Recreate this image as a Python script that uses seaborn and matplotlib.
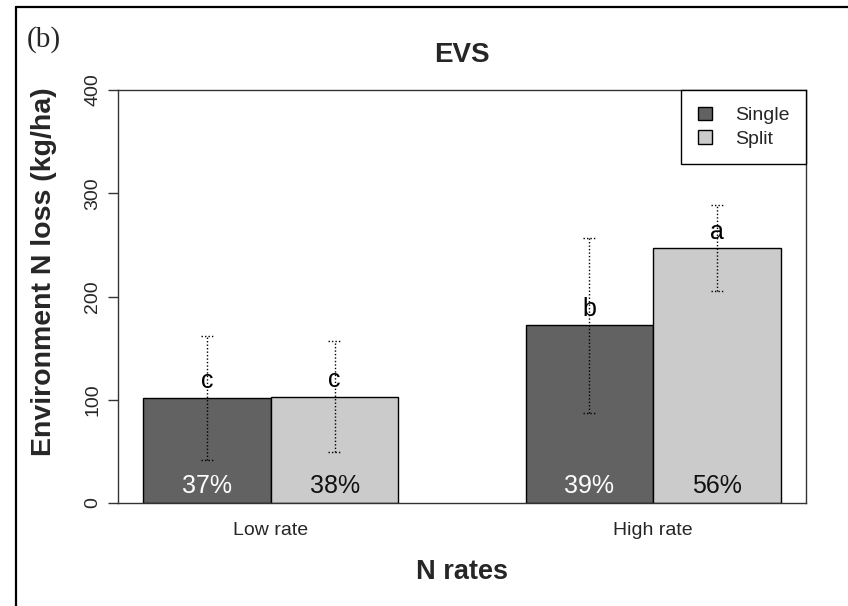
import matplotlib
matplotlib.use('Agg')
import matplotlib.pyplot as plt
import seaborn as sns
import pandas as pd
from matplotlib.patches import Rectangle
from matplotlib.lines import Line2D

# ---- data ----
rates = ['Low rate', 'High rate']
methods = ['Single', 'Split']
single_loss = [102, 172]
split_loss = [103, 247]
single_sd = [60, 85]
split_sd = [54, 42]
single_letters = ['c', 'b']
split_letters = ['c', 'a']
single_pct = ['37%', '39%']
split_pct = ['38%', '56%']
yticks = [0, 100, 200, 300, 400]

colors = {'Single': '#626262', 'Split': '#cbcbcb'}
pct_colors = {'Single': 'white', 'Split': '#111111'}

df = pd.DataFrame({
    'rate': rates * 2,
    'method': ['Single'] * 2 + ['Split'] * 2,
    'loss': single_loss + split_loss,
    'sd': single_sd + split_sd,
    'letter': single_letters + split_letters,
    'pct': single_pct + split_pct,
})

sns.set_style('white')
plt.rcParams['font.family'] = ['Liberation Sans', 'DejaVu Sans']

W, H = 848, 606
fig = plt.figure(figsize=(W / 100, H / 100), dpi=100, facecolor='white')
ax = fig.add_axes([118 / W, 1 - 503 / H, (806 - 118) / W, (503 - 90) / H])

sns.barplot(data=df, x='rate', y='loss', hue='method', order=rates,
            hue_order=methods, palette=colors, width=2 / 3, saturation=1,
            edgecolor='black', linewidth=1, errorbar=None, legend=False, ax=ax)

dot = (0, (1, 1.5))
cap = 0.016
for m, cont in zip(methods, ax.containers):
    sub = df[df['method'] == m].set_index('rate').loc[rates]
    for bar, (_, row) in zip(cont, sub.iterrows()):
        x = bar.get_x() + bar.get_width() / 2
        h = bar.get_height()
        sd = row['sd']
        ax.vlines(x, h - sd, h + sd, colors='black', linestyles=dot, lw=1, zorder=4)
        ax.hlines([h - sd, h + sd], x - cap, x + cap, colors='black',
                  linestyles=dot, lw=1, zorder=4)
        ax.text(x, h + 9, row['letter'], ha='center', va='baseline',
                fontsize=18, color='black', zorder=5)
        ax.text(x, 10, row['pct'], ha='center', va='baseline', fontsize=18,
                color=pct_colors[m], zorder=5)

ax.set_xlim(-0.4, 1.4)
ax.set_ylim(0, 400)
ax.set_yticks(yticks)
ax.set_yticklabels([str(v) for v in yticks])
ax.tick_params(axis='y', left=True, length=7.2, width=1, color='#333333',
               pad=5, labelsize=14, labelrotation=90)
for lbl in ax.get_yticklabels():
    lbl.set_va('center')
ax.tick_params(axis='x', bottom=False, length=0, pad=14, labelsize=14)

for s in ax.spines.values():
    s.set_visible(True)
    s.set_color('#333333')
    s.set_linewidth(1)

ax.set_xlabel('N rates', fontsize=19.5, fontweight='bold')
ax.xaxis.set_label_coords(0.5, (503 - 572) / 413)
ax.xaxis.label.set_va('center')
ax.set_ylabel('Environment N loss (kg/ha)', fontsize=20.5, fontweight='bold')
ax.yaxis.set_label_coords((44 - 118) / 688, (503 - 272) / 413)
ax.yaxis.label.set_va('center')
ax.set_title('EVS', fontsize=20, fontweight='bold', pad=20)

handles = [Rectangle((0, 0), 1, 1, facecolor=colors[m], edgecolor='black', lw=1)
           for m in methods]
leg = ax.legend(handles, methods, loc='upper right', borderaxespad=0,
                fontsize=14, frameon=True, fancybox=False, framealpha=1,
                edgecolor='black', handlelength=0.72, handleheight=0.72,
                handletextpad=1.2, borderpad=0.85, labelspacing=0.3)
leg.get_frame().set_linewidth(1)

fig.text(27 / W, 1 - 47 / H, '(b)', fontsize=21, family='Liberation Serif',
         ha='left', va='baseline')

fig.add_artist(Line2D([16 / W, 1], [1 - 7 / H, 1 - 7 / H], color='black',
                      lw=1.6, transform=fig.transFigure))
fig.add_artist(Line2D([16 / W, 16 / W], [0, 1 - 7 / H], color='black',
                      lw=1.6, transform=fig.transFigure))

fig.savefig('out.png', dpi=100, facecolor='white')
